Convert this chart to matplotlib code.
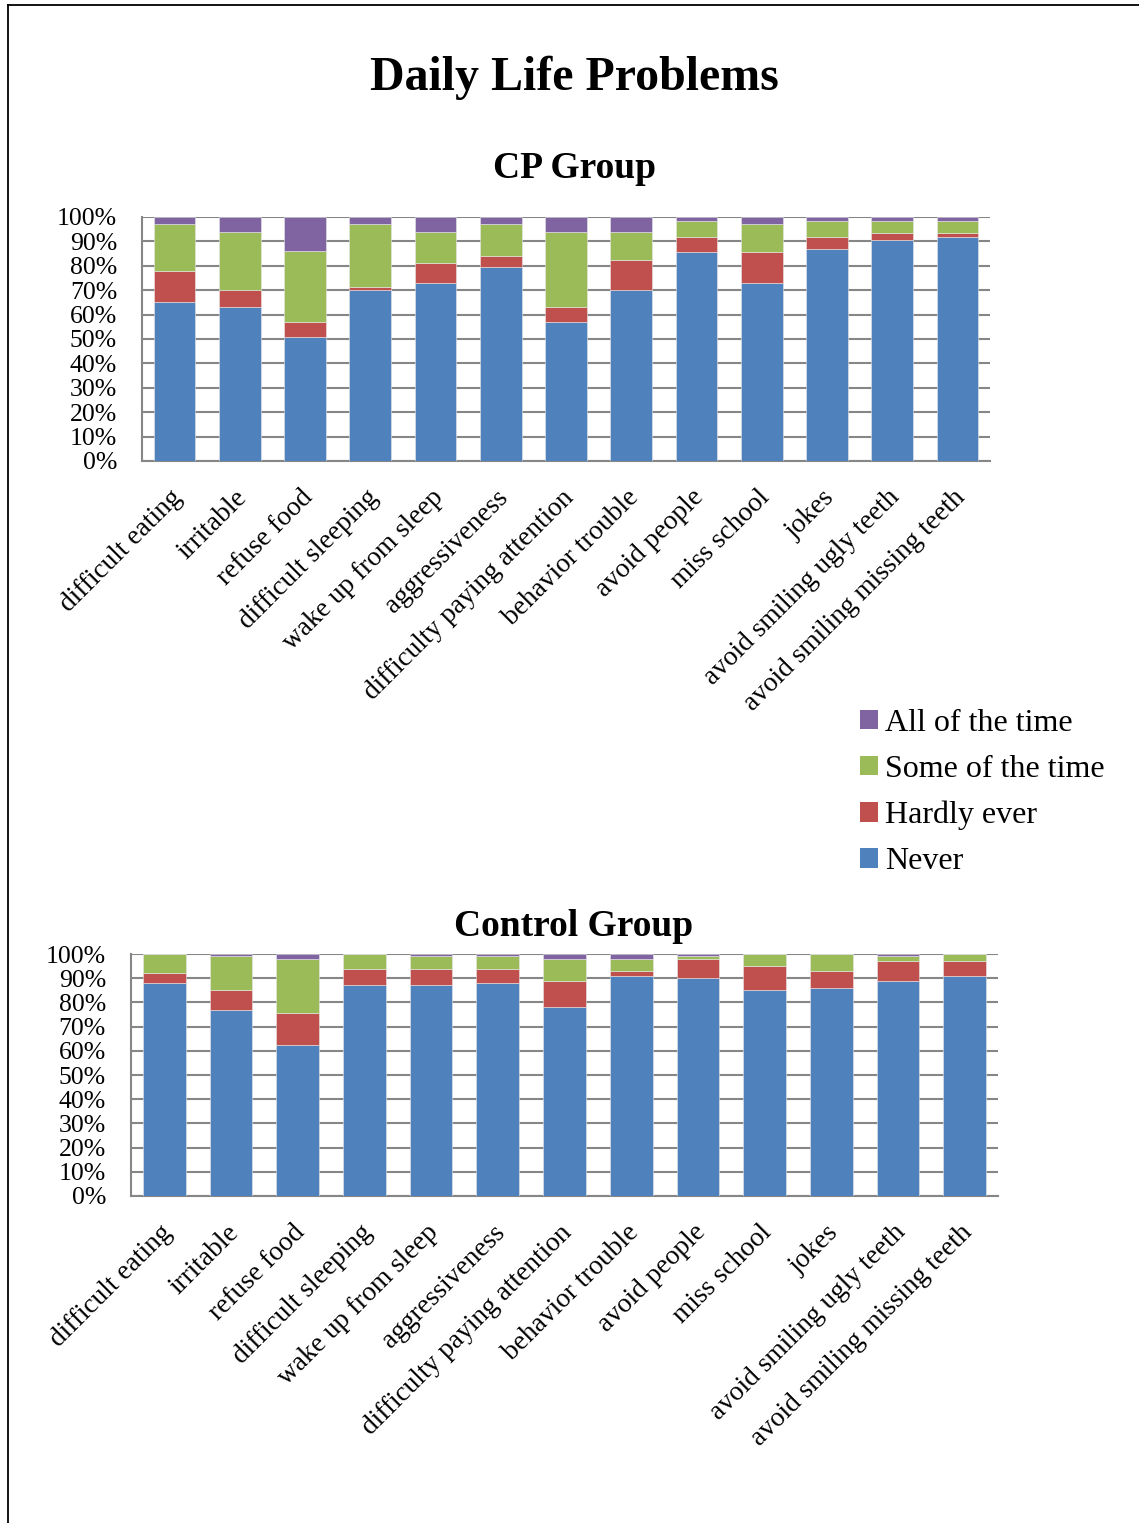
import matplotlib
matplotlib.use("Agg")
import matplotlib.pyplot as plt
from matplotlib.lines import Line2D
from matplotlib.patches import Patch
from matplotlib.transforms import ScaledTranslation
import numpy as np

# Survey items shared by both groups
categories = [
    "difficult eating", "irritable", "refuse food", "difficult sleeping",
    "wake up from sleep", "aggressiveness", "difficulty paying attention",
    "behavior trouble", "avoid people", "miss school", "jokes",
    "avoid smiling ugly teeth", "avoid smiling missing teeth",
]

# Response shares (%) per item, CP group
cp_never = [65, 63, 51, 70, 73, 79.5, 57, 70, 85.5, 73, 87, 90.5, 92]
cp_hardly = [13, 7, 6, 1.5, 8, 4.5, 6, 12.5, 6.5, 12.5, 5, 3, 1.5]
cp_some = [19, 24, 29, 25.5, 13, 13, 31, 11.5, 6.5, 11.5, 6.5, 5, 5]
cp_all = [3, 6, 14, 3, 6, 3, 6, 6, 1.5, 3, 1.5, 1.5, 1.5]

# Response shares (%) per item, control group
ctrl_never = [88, 77, 62.5, 87, 87, 88, 78, 91, 90, 85, 86, 89, 91]
ctrl_hardly = [4, 8, 13, 7, 7, 6, 11, 2, 8, 10, 7, 8, 6]
ctrl_some = [8, 14, 22.5, 6, 5, 5, 9, 5, 1, 5, 7, 2, 3]
ctrl_all = [0, 1, 2, 0, 1, 1, 2, 2, 1, 0, 0, 1, 0]

series_names = ["Never", "Hardly ever", "Some of the time", "All of the time"]
colors = ["#4F81BD", "#C0504D", "#9BBB59", "#8064A2"]
yticks = [0, 10, 20, 30, 40, 50, 60, 70, 80, 90, 100]
ytick_labels = [f"{v}%" for v in yticks]

plt.rcParams["font.family"] = ["Liberation Serif", "DejaVu Serif"]

W, H = 1139, 1523
fig = plt.figure(figsize=(W / 100, H / 100), dpi=100)

# page frame (top and left edges)
fig.add_artist(Line2D([8 / W, 1.0], [1 - 5 / H, 1 - 5 / H], color="black", lw=1.3))
fig.add_artist(Line2D([8 / W, 8 / W], [0.0, 1 - 5 / H], color="black", lw=1.3))

fig.text(574 / W, 1 - 78 / H, "Daily Life Problems", ha="center", va="center",
         fontsize=34.5, fontweight="bold")

grid_color = "#868686"


def draw_group(rect, title, title_y, stacks):
    ax = fig.add_axes(rect)
    x = np.arange(len(categories))
    bottom = np.zeros(len(categories))
    for vals, c in zip(stacks, colors):
        v = np.array(vals, dtype=float) / 100.0
        ax.bar(x, v, width=0.64, bottom=bottom, color=c, edgecolor="#e8e8e8",
               linewidth=0.4, zorder=3)
        bottom += v
    ax.set_xlim(-0.5, len(categories) - 0.5)
    ax.set_ylim(0, 1)
    ax.set_yticks([v / 100 for v in yticks])
    ax.set_yticklabels(ytick_labels, fontsize=18.5)
    ax.set_xticks(x)
    ax.set_xticklabels([])
    # slanted category names hanging below each bar
    shift = ScaledTranslation(-0.05, -0.24, fig.dpi_scale_trans)
    for i, name in enumerate(categories):
        ax.text(i, 0, name, transform=ax.get_xaxis_transform() + shift,
                rotation=45, ha="right", va="top", rotation_mode="anchor",
                fontsize=19.7)
    ax.tick_params(axis="y", length=0, pad=18)
    ax.tick_params(axis="x", length=0)
    ax.grid(axis="y", color=grid_color, lw=1.5, zorder=0)
    for s in ("top", "right"):
        ax.spines[s].set_visible(False)
    for s in ("left", "bottom"):
        ax.spines[s].set_color(grid_color)
        ax.spines[s].set_linewidth(1.5)
    fig.text(574 / W, 1 - title_y / H, title, ha="center", va="center",
             fontsize=27, fontweight="bold")
    return ax


draw_group([142 / W, 1 - 461 / H, 848 / W, 244 / H], "CP Group", 168,
           [cp_never, cp_hardly, cp_some, cp_all])
draw_group([131 / W, 1 - 1196 / H, 867 / W, 242 / H], "Control Group", 926,
           [ctrl_never, ctrl_hardly, ctrl_some, ctrl_all])

handles = [Patch(facecolor=c, edgecolor="none") for c in colors][::-1]
fig.legend(handles, series_names[::-1], loc="upper left",
           bbox_to_anchor=(860 / W, 1 - 709 / H), frameon=False, fontsize=23,
           handlelength=0.56, handleheight=0.56, handletextpad=0.22,
           labelspacing=0.53, borderpad=0, borderaxespad=0)

fig.savefig("out.png", dpi=100, facecolor="white")
